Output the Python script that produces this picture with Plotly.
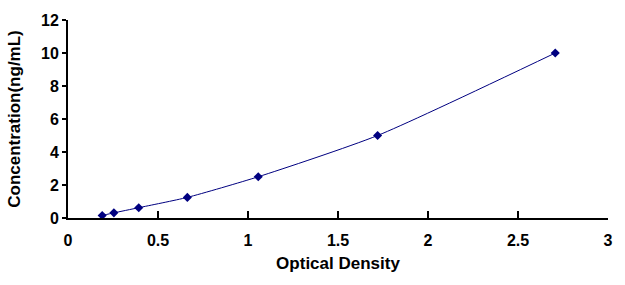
import plotly.graph_objects as go

od = [0.19, 0.255, 0.393, 0.663, 1.057, 1.72, 2.707]
conc = [0.156, 0.312, 0.625, 1.25, 2.5, 5, 10]
x_ticks = [0, 0.5, 1, 1.5, 2, 2.5, 3]
x_labels = ["0", "0.5", "1", "1.5", "2", "2.5", "3"]
y_ticks = [0, 2, 4, 6, 8, 10, 12]
y_labels = ["0", "2", "4", "6", "8", "10", "12"]

FAM = "Liberation Sans, Arial, sans-serif"

fig = go.Figure()
fig.add_trace(go.Scatter(
    x=od, y=conc, mode="lines+markers",
    line=dict(color="#000080", width=1, shape="spline", smoothing=0.6),
    marker=dict(symbol="diamond", size=7, color="#000080"),
    showlegend=False, cliponaxis=False,
))

tickfont = dict(family=FAM, size=16, color="black", weight="bold")
titlefont = dict(family=FAM, size=17, color="black", weight="bold")

fig.update_layout(
    width=625, height=285,
    margin=dict(l=68, r=14, t=18, b=67),
    paper_bgcolor="white", plot_bgcolor="white",
    xaxis=dict(
        range=[0, 3], tickvals=x_ticks,
        ticktext=["<b>%s</b>" % t for t in x_labels],
        showgrid=False, zeroline=False,
        showline=True, linecolor="black", linewidth=2,
        ticks="inside", ticklen=7, tickwidth=2, tickcolor="black",
        tickfont=tickfont, ticklabelstandoff=7,
        title=dict(text="Optical Density", standoff=9, font=titlefont),
    ),
    yaxis=dict(
        range=[0, 12], tickvals=y_ticks,
        ticktext=["<b>%s</b>" % t for t in y_labels],
        showgrid=False, zeroline=False,
        showline=True, linecolor="black", linewidth=2,
        ticks="outside", ticklen=4, tickwidth=2, tickcolor="black",
        tickfont=tickfont,
        title=dict(text="Concentration(ng/mL)", standoff=16, font=titlefont),
    ),
)

fig.write_html("out.html")
